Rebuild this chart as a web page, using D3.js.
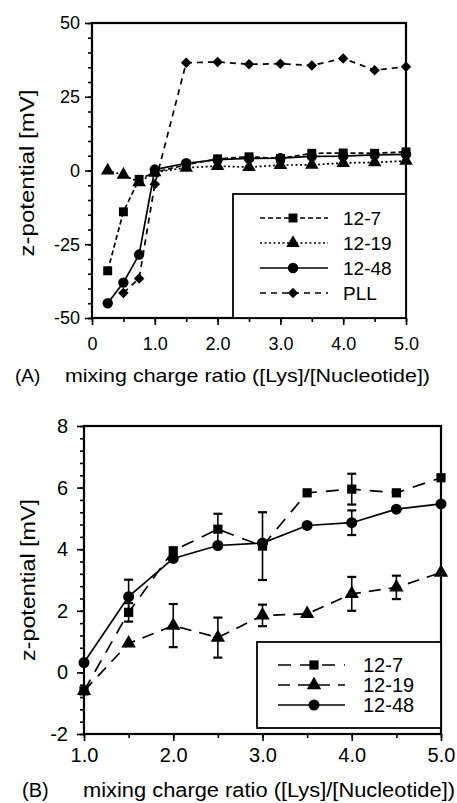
<!DOCTYPE html>
<html>
<head>
<meta charset="utf-8">
<script src="https://cdn.jsdelivr.net/npm/d3@7/dist/d3.min.js"></script>
<style>
  body { margin: 0; background: #fff; }
  svg text { font-family: "Liberation Sans", Arial, Helvetica, sans-serif; fill: #000; }
</style>
</head>
<body>
<div id="fig"></div>
<script>
// ---- datos ----
// panel A: todo el rango de mezcla
const ratioA    = [0.25, 0.5, 0.75, 1.0, 1.5, 2.0, 2.5, 3.0, 3.5, 4.0, 4.5, 5.0];
const zeta127A  = [-34, -14, -3, -0.6, 1.95, 3.95, 4.65, 4.1, 5.83, 5.95, 5.83, 6.32];
const zeta1219A = [0, -1.5, -4, -0.6, 0.94, 1.52, 1.13, 1.85, 1.9, 2.55, 2.76, 3.24];
const zeta1248A = [-45, -38, -28.5, 0.32, 2.46, 3.7, 4.12, 4.2, 4.77, 4.86, 5.3, 5.47];
const ratioPLL  = [0.5, 0.75, 1.0, 1.5, 2.0, 2.5, 3.0, 3.5, 4.0, 4.5, 5.0];
const zetaPLL   = [-41.5, -36.6, -4.7, 36.5, 36.8, 36.0, 36.2, 35.6, 38.0, 34.0, 35.2];

// panel B: zoom de 1.0 a 5.0, con barras de error
const ratioB    = [1.0, 1.5, 2.0, 2.5, 3.0, 3.5, 4.0, 4.5, 5.0];
const zeta127B  = [-0.6, 1.95, 3.95, 4.65, 4.1, 5.83, 5.95, 5.83, 6.32];
const err127B   = [0, 0.3, 0, 0.5, 1.1, 0, 0.5, 0, 0];
const zeta1219B = [-0.6, 0.94, 1.52, 1.13, 1.85, 1.9, 2.55, 2.76, 3.24];
const err1219B  = [0, 0, 0.7, 0.65, 0.35, 0, 0.55, 0.38, 0];
const zeta1248B = [0.32, 2.46, 3.7, 4.12, 4.2, 4.77, 4.86, 5.3, 5.47];
const err1248B  = [0, 0.55, 0, 0, 0, 0, 0.4, 0, 0];

// ticks
const xTicksA = [0, 1, 2, 3, 4, 5];
const yTicksA = [-50, -25, 0, 25, 50];
const xTicksB = [1, 2, 3, 4, 5];
const yTicksB = [-2, 0, 2, 4, 6, 8];

const xLabel = "mixing charge ratio ([Lys]/[Nucleotide])";
const yLabel = "z-potential [mV]";

// ---- svg ----
const SVG_W = 457, SVG_H = 803;
const svg = d3.select("#fig").append("svg").attr("width", SVG_W).attr("height", SVG_H);

const xA = d3.scaleLinear().domain([0, 5]).range([92, 406]);
const yA = d3.scaleLinear().domain([-50, 50]).range([318, 23]);
const xB = d3.scaleLinear().domain([1, 5]).range([84, 441]);
const yB = d3.scaleLinear().domain([-2, 8]).range([734, 426]);

const symbols = {
  square: d3.symbolSquare,
  triangle: d3.symbolTriangle,
  circle: d3.symbolCircle,
  diamond: d3.symbolSquare // girado 45 grados mas abajo
};

function drawAxes(x, y, o) {
  const g = svg.append("g");
  const x0 = x.range()[0], x1 = x.range()[1];
  const y0 = y.range()[0], y1 = y.range()[1];

  // ticks menores
  g.append("g").attr("transform", `translate(0,${y0})`)
    .call(d3.axisBottom(x).tickValues(o.xMinor).tickSize(4).tickFormat(""));
  g.append("g").attr("transform", `translate(${x0},0)`)
    .call(d3.axisLeft(y).tickValues(o.yMinor).tickSize(4).tickFormat(""));

  // ticks mayores
  const ax = g.append("g").attr("transform", `translate(0,${y0})`)
    .call(d3.axisBottom(x).tickValues(o.xTicks).tickSize(7).tickPadding(o.padX)
      .tickFormat(d => d === 0 ? "0" : d3.format(".1f")(d)));
  const ay = g.append("g").attr("transform", `translate(${x0},0)`)
    .call(d3.axisLeft(y).tickValues(o.yTicks).tickSize(7).tickPadding(o.padY)
      .tickFormat(d => String(d)));

  g.selectAll(".domain").remove();
  g.selectAll(".tick line").attr("stroke", "#000").attr("stroke-width", 1.6);
  ax.selectAll("text").style("font-size", o.font + "px");
  ay.selectAll("text").style("font-size", o.font + "px");

  // marco
  g.append("rect")
    .attr("x", x0).attr("y", y1)
    .attr("width", x1 - x0).attr("height", y0 - y1)
    .attr("fill", "none").attr("stroke", "#000").attr("stroke-width", 2.2);
}

function marker(g, kind, cx, cy, size) {
  g.append("path")
    .attr("d", d3.symbol().type(symbols[kind]).size(size)())
    .attr("transform", `translate(${cx},${cy})` + (kind === "diamond" ? " rotate(45)" : ""))
    .attr("fill", "#000");
}

function drawSeries(g, xs, ys, x, y, st, errs) {
  const pts = xs.map((v, i) => [v, ys[i]]);
  g.append("path")
    .datum(pts)
    .attr("d", d3.line().x(d => x(d[0])).y(d => y(d[1])))
    .attr("fill", "none").attr("stroke", "#000")
    .attr("stroke-width", st.width)
    .attr("stroke-dasharray", st.dash);

  if (errs) {
    errs.forEach((e, i) => {
      if (!e) return;
      const cx = x(xs[i]);
      const top = y(ys[i] + e), bot = y(ys[i] - e);
      g.append("line").attr("x1", cx).attr("x2", cx).attr("y1", top).attr("y2", bot)
        .attr("stroke", "#000").attr("stroke-width", 1.6);
      [top, bot].forEach(cy => {
        g.append("line").attr("x1", cx - 4.5).attr("x2", cx + 4.5).attr("y1", cy).attr("y2", cy)
          .attr("stroke", "#000").attr("stroke-width", 2.2);
      });
    });
  }
  pts.forEach(d => marker(g, st.symbol, x(d[0]), y(d[1]), st.size));
}

function drawLegend(box, entries, lx0, lx1, mx, tx, ys, font) {
  const g = svg.append("g");
  g.append("rect").attr("x", box[0]).attr("y", box[1]).attr("width", box[2]).attr("height", box[3])
    .attr("fill", "#fff").attr("stroke", "#000").attr("stroke-width", 1.8);
  entries.forEach((e, i) => {
    g.append("line").attr("x1", lx0).attr("x2", lx1).attr("y1", ys[i]).attr("y2", ys[i])
      .attr("stroke", "#000").attr("stroke-width", e.width).attr("stroke-dasharray", e.dash);
    marker(g, e.symbol, mx, ys[i], e.size);
    g.append("text").attr("x", tx).attr("y", ys[i]).attr("dy", "0.36em")
      .style("font-size", font + "px").text(e.name);
  });
}

// ============================= PANEL A =============================
drawAxes(xA, yA, {
  xTicks: xTicksA, xMinor: d3.range(0, 5.01, 0.5),
  yTicks: yTicksA, yMinor: d3.range(-50, 50.1, 5),
  padX: 12, padY: 5, font: 18
});

const stylesA = [
  { name: "12-7",  symbol: "square",   size: 80, dash: "5,3", width: 1.7 },
  { name: "12-19", symbol: "triangle", size: 80, dash: "2,2.5", width: 1.7 },
  { name: "12-48", symbol: "circle",   size: 85, dash: null, width: 1.7 },
  { name: "PLL",   symbol: "diamond",  size: 55, dash: "6,5", width: 1.7 }
];

const gA = svg.append("g");
drawSeries(gA, ratioA, zeta1219A, xA, yA, stylesA[1]);
drawSeries(gA, ratioA, zeta127A, xA, yA, stylesA[0]);
drawSeries(gA, ratioA, zeta1248A, xA, yA, stylesA[2]);
drawSeries(gA, ratioPLL, zetaPLL, xA, yA, stylesA[3]);

drawLegend([233, 194, 173, 124], stylesA, 260, 328, 293, 343, [218, 243, 268, 293], 19);

svg.append("text").attr("x", 15).attr("y", 382).style("font-size", "19px").text("(A)");
svg.append("text").attr("x", 65).attr("y", 382).style("font-size", "19px")
  .attr("textLength", 365).attr("lengthAdjust", "spacingAndGlyphs").text(xLabel);
svg.append("text").attr("transform", "translate(34,173) rotate(-90)")
  .attr("text-anchor", "middle").style("font-size", "20px")
  .attr("textLength", 167).attr("lengthAdjust", "spacingAndGlyphs").text(yLabel);

// ============================= PANEL B =============================
drawAxes(xB, yB, {
  xTicks: xTicksB, xMinor: d3.range(1, 5.01, 0.5),
  yTicks: yTicksB, yMinor: d3.range(-2, 8.01, 0.4),
  padX: 7, padY: 9, font: 20
});

const stylesB = [
  { name: "12-7",  symbol: "square",   size: 85, dash: "13,9", width: 1.7 },
  { name: "12-19", symbol: "triangle", size: 90, dash: "12,8", width: 1.7 },
  { name: "12-48", symbol: "circle",   size: 95, dash: null, width: 1.7 }
];

const gB = svg.append("g");
drawSeries(gB, ratioB, zeta1219B, xB, yB, stylesB[1], err1219B);
drawSeries(gB, ratioB, zeta127B, xB, yB, stylesB[0], err127B);
drawSeries(gB, ratioB, zeta1248B, xB, yB, stylesB[2], err1248B);

drawLegend([257, 642, 184, 86], stylesB, 278, 345, 314, 363, [665, 685, 705], 20);

svg.append("text").attr("x", 22).attr("y", 797).style("font-size", "20px").text("(B)");
svg.append("text").attr("x", 83).attr("y", 797).style("font-size", "20px")
  .attr("textLength", 372).attr("lengthAdjust", "spacingAndGlyphs").text(xLabel);
svg.append("text").attr("transform", "translate(35,580) rotate(-90)")
  .attr("text-anchor", "middle").style("font-size", "20px")
  .attr("textLength", 162).attr("lengthAdjust", "spacingAndGlyphs").text(yLabel);
</script>
</body>
</html>
